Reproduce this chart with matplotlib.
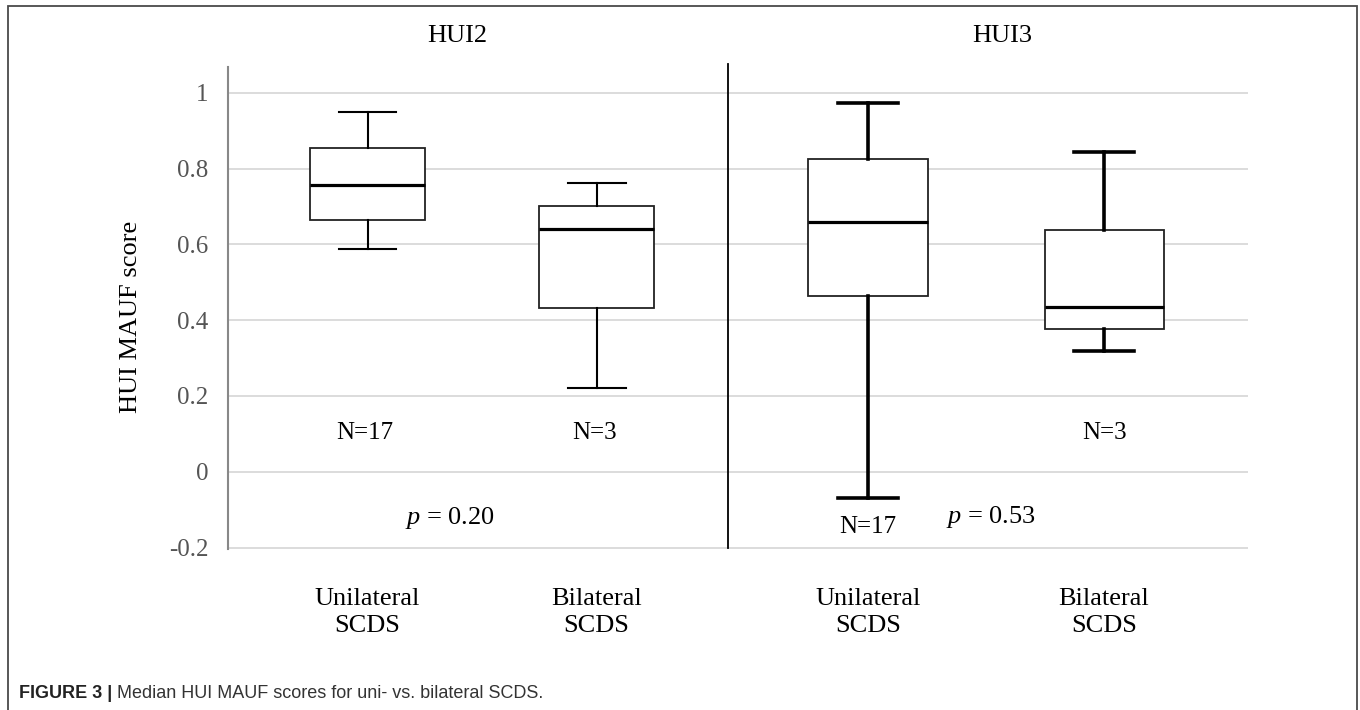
import matplotlib
matplotlib.use("Agg")
import matplotlib.pyplot as plt
from matplotlib.patches import Rectangle

# box statistics (HUI MAUF score)
groups = ["Unilateral\nSCDS", "Bilateral\nSCDS", "Unilateral\nSCDS", "Bilateral\nSCDS"]
panels = ["HUI2", "HUI3"]
whislo = [0.587, 0.222, -0.069, 0.318]
q1 = [0.665, 0.431, 0.465, 0.376]
med = [0.757, 0.640, 0.659, 0.434]
q3 = [0.853, 0.702, 0.826, 0.638]
whishi = [0.949, 0.763, 0.974, 0.843]
n_labels = ["N=17", "N=3", "N=17", "N=3"]
p_values = ["0.20", "0.53"]
yticks = [-0.2, 0, 0.2, 0.4, 0.6, 0.8, 1]
ytick_labels = ["-0.2", "0", "0.2", "0.4", "0.6", "0.8", "1"]

plt.rcParams['font.family'] = ['Liberation Serif', 'DejaVu Serif']
plt.rcParams['mathtext.fontset'] = 'custom'
plt.rcParams['mathtext.it'] = 'Liberation Serif:italic'
plt.rcParams['mathtext.rm'] = 'Liberation Serif'

fig = plt.figure(figsize=(13.6, 7.1), dpi=100)
ax = fig.add_axes([228 / 1360, 1 - 549.4 / 710, 1020 / 1360, (549.4 - 67) / 710])

# outer frame
fig.patches.append(Rectangle((8 / 1360, -0.02), 1349 / 1360, 1.02 - 6 / 710,
                             transform=fig.transFigure, fill=False,
                             edgecolor='#4a4a4a', lw=1.3))

positions = [1.395, 3.685, 6.40, 8.76]
widths = [1.15, 1.15, 1.2, 1.19]
capw = [0.57, 0.58, 0.6, 0.6]

stats = []
for i in range(4):
    stats.append(dict(whislo=whislo[i], q1=q1[i], med=med[i], q3=q3[i],
                      whishi=whishi[i], fliers=[]))

for sl, wl in [(slice(0, 2), 1.5), (slice(2, 4), 2.6)]:
    ax.bxp(stats[sl], positions=positions[sl], widths=widths[sl],
           capwidths=capw[sl], showfliers=False, patch_artist=True,
           boxprops=dict(facecolor='white', edgecolor='#222222', lw=1.3),
           medianprops=dict(color='black', lw=2.3),
           whiskerprops=dict(color='black', lw=wl),
           capprops=dict(color='black', lw=wl), manage_ticks=False, zorder=3)

ax.set_xlim(0, 10.2)
ax.set_ylim(-0.205, 1.068)
ax.set_yticks(yticks)
ax.set_yticklabels(ytick_labels)
ax.set_xticks(positions)
ax.set_xticklabels(groups, linespacing=1.3)
ax.tick_params(axis='y', length=0, pad=14, labelsize=18, labelcolor='#555555')
ax.tick_params(axis='x', length=0, pad=28, labelsize=19)
ax.grid(axis='y', color='#d6d6d6', lw=1.2, zorder=0)
ax.set_axisbelow(True)
for s in ['top', 'right', 'bottom']:
    ax.spines[s].set_visible(False)
ax.spines['left'].set_color('#888888')
ax.spines['left'].set_linewidth(1.5)

# divider between the two panels
ax.plot([5.0, 5.0], [-0.2, 1.075], color='black', lw=1.3, clip_on=False, zorder=4)

# panel titles
ax.text(2.29, 1.15, panels[0], ha='center', va='center', fontsize=19, clip_on=False)
ax.text(7.74, 1.15, panels[1], ha='center', va='center', fontsize=19, clip_on=False)

# sample sizes
n_pos = [(1.365, 0.102), (3.67, 0.102), (6.40, -0.146), (8.77, 0.102)]
for (x, y), t in zip(n_pos, n_labels):
    ax.text(x, y, t, ha='center', va='center', fontsize=18)

# p values
p_pos = [(2.22, -0.122), (7.63, -0.119)]
for (x, y), p in zip(p_pos, p_values):
    ax.text(x, y, r'$p$ = ' + p, ha='center', va='center', fontsize=19)

fig.text(131 / 1360, 1 - 317 / 710, "HUI MAUF score", rotation=90,
         ha='center', va='center', fontsize=19)

# caption
cap_y = 1 - 693 / 710
t1 = fig.text(19 / 1360, cap_y, "FIGURE 3 | ", fontsize=13, fontweight='bold',
              family=['Liberation Sans', 'DejaVu Sans'], va='center', color='#222222')
fig.canvas.draw()
bb = t1.get_window_extent()
fig.text(bb.x1 / 1360, cap_y, "Median HUI MAUF scores for uni- vs. bilateral SCDS.",
         fontsize=13, family=['Liberation Sans', 'DejaVu Sans'], va='center',
         color='#333333')

fig.savefig("out.png", dpi=100)
